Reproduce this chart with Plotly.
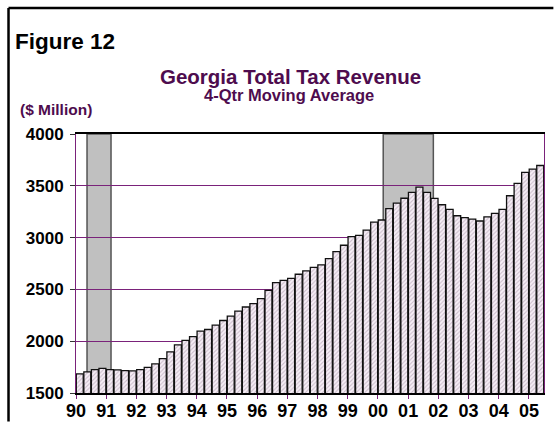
import plotly.graph_objects as go

# Quarterly 4-quarter moving average of Georgia total tax revenue, 1990Q1-2005Q2 ($ million)
revenue = [
    1684, 1703, 1726, 1738, 1726, 1723, 1716, 1713,
    1726, 1748, 1781, 1832, 1897, 1965, 2008, 2045,
    2097, 2113, 2155, 2200, 2242, 2291, 2330, 2362,
    2411, 2491, 2566, 2588, 2607, 2646, 2678, 2712,
    2737, 2798, 2865, 2926, 3010, 3022, 3073, 3150,
    3170, 3279, 3333, 3380, 3437, 3487, 3436, 3379,
    3317, 3272, 3211, 3192, 3179, 3160, 3201, 3233,
    3272, 3404, 3523, 3629, 3661, 3696,
]
year_labels = ["90", "91", "92", "93", "94", "95", "96", "97",
               "98", "99", "00", "01", "02", "03", "04", "05"]
y_ticks = [1500, 2000, 2500, 3000, 3500, 4000]
# Recession periods, in quarter units from the start of 1990
recessions = [(1.46, 4.64), (40.7, 47.34)]

quarter_pos = [i + 0.5 for i in range(len(revenue))]
year_pos = [4 * i for i in range(len(year_labels))]

PURPLE = "#7A227A"
TITLE = "#4E0C4E"
FONT = "Liberation Sans, Arial"

fig = go.Figure()
fig.add_trace(go.Bar(
    x=quarter_pos,
    y=revenue,
    width=0.92,
    marker=dict(
        color="#F2ECF2",
        line=dict(color="#111111", width=1.3),
        pattern=dict(shape="/", fgcolor="#A08CA0", bgcolor="#F6EEF6",
                     size=3, solidity=0.35),
    ),
    hoverinfo="x+y",
))

shapes = []
for x0, x1 in recessions:
    shapes.append(dict(type="rect", xref="x", yref="y", x0=x0, x1=x1,
                       y0=1500, y1=4000, layer="below",
                       fillcolor="#C0C0C0",
                       line=dict(color="#555555", width=1.5)))
# outer frame of the figure panel: top and left edges
shapes.append(dict(type="line", xref="paper", yref="paper",
                   x0=-0.1442, x1=1.02, y0=1.4865, y1=1.4865,
                   line=dict(color="black", width=2.5)))
shapes.append(dict(type="line", xref="paper", yref="paper",
                   x0=-0.1442, x1=-0.1442, y0=1.4865, y1=-0.11,
                   line=dict(color="black", width=2.5)))

annotations = [
    dict(text="Figure 12", xref="paper", yref="paper", x=-0.1346, y=1.359,
         xanchor="left", yanchor="middle", showarrow=False,
         font=dict(family=FONT, size=22.5, color="black", weight="bold")),
    dict(text="Georgia Total Tax Revenue", xref="paper", yref="paper",
         x=0.4594, y=1.2225, xanchor="center", yanchor="middle",
         showarrow=False, borderpad=0,
         font=dict(family=FONT, size=20.5, color=TITLE, weight="bold")),
    dict(text="4-Qtr Moving Average", xref="paper", yref="paper",
         x=0.455, y=1.1505, xanchor="center", yanchor="middle",
         showarrow=False, borderpad=0,
         font=dict(family=FONT, size=16.5, color=TITLE, weight="bold")),
    dict(text="($ Million)", xref="paper", yref="paper",
         x=-0.1239, y=1.0965, xanchor="left", yanchor="middle",
         showarrow=False,
         font=dict(family=FONT, size=15.5, color=TITLE, weight="bold")),
]

fig.update_layout(
    width=556, height=422,
    margin=dict(l=76, r=12, t=134, b=29),
    paper_bgcolor="white", plot_bgcolor="white",
    showlegend=False,
    bargap=0.08,
    shapes=shapes,
    annotations=annotations,
    xaxis=dict(
        range=[0, 62], automargin=False,
        tickvals=year_pos, ticktext=year_labels,
        ticks="outside", ticklen=4, tickcolor=PURPLE, tickwidth=1,
        ticklabelstandoff=-3,
        showgrid=False, zeroline=False,
        showline=True, linecolor="black", linewidth=1.5, mirror=True,
        tickfont=dict(family=FONT, size=18, color="black", weight="bold"),
    ),
    yaxis=dict(
        range=[1500, 4000], automargin=False,
        tickvals=y_ticks,
        ticks="outside", ticklen=5, tickcolor="#333333", tickwidth=1,
        ticklabelstandoff=3,
        showgrid=True, gridcolor=PURPLE, gridwidth=1,
        zeroline=False,
        showline=True, linecolor=PURPLE, linewidth=1, mirror=True,
        tickfont=dict(family=FONT, size=17, color="black", weight="bold"),
    ),
)

# keep the page exactly the size of the figure (no scrollbars)
page_script = (
    "var s=document.createElement('style');"
    "s.textContent='html,body{margin:0;padding:0;overflow:hidden;"
    "scrollbar-width:none;}::-webkit-scrollbar{display:none;}';"
    "document.head.appendChild(s);"
)
fig.write_html("out.html", post_script=page_script)
